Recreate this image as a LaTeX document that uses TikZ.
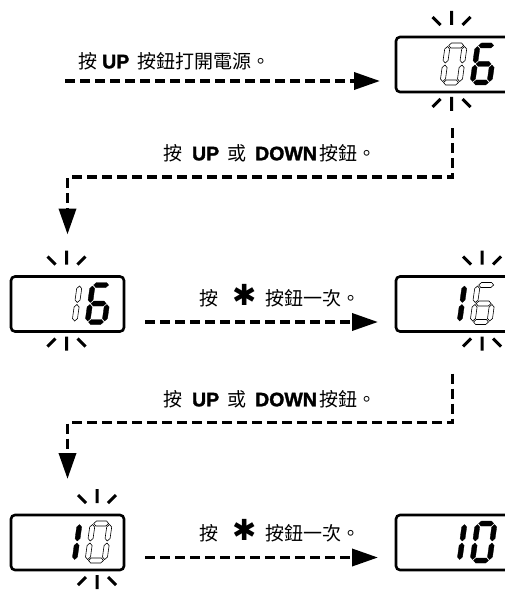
\documentclass[tikz,border=0pt]{standalone}
\usepackage{fontspec}
\setmainfont{Liberation Sans}
\newfontfamily\cjkfont{Noto Sans CJK TC}
\newfontfamily\dejavu{DejaVu Sans}
\newfontfamily\heavyfont{Liberation Sans}[BoldFeatures={FakeBold=1.6}]
\usepackage{tikz}
\usetikzlibrary{
  arrows.meta,
  calc
}
\newcommand{\btn}[1]{{\heavyfont\bfseries\fontsize{19.5pt}{22pt}\selectfont #1}}
\newcommand{\keystar}{{\dejavu\fontsize{29pt}{22pt}\selectfont ✱}}

% seven segments of one LCD digit (unslanted, origin bottom left)
\tikzset{
  seg a/.style={insert path={(1,37)--(3.5,39.5)--(13.5,39.5)--(16,37)--(13.5,34.5)--(3.5,34.5)--cycle}},
  seg b/.style={insert path={(17,19.5)--(19.5,22)--(19.5,33.5)--(17,36)--(14.5,33.5)--(14.5,22)--cycle}},
  seg c/.style={insert path={(17,1)--(19.5,3.5)--(19.5,15)--(17,17.5)--(14.5,15)--(14.5,3.5)--cycle}},
  seg d/.style={insert path={(1,0)--(3.5,2.5)--(13.5,2.5)--(16,0)--(13.5,-2.5)--(3.5,-2.5)--cycle}},
  seg e/.style={insert path={(0,1)--(2.5,3.5)--(2.5,15)--(0,17.5)--(-2.5,15)--(-2.5,3.5)--cycle}},
  seg f/.style={insert path={(0,19.5)--(2.5,22)--(2.5,33.5)--(0,36)--(-2.5,33.5)--(-2.5,22)--cycle}},
  seg g/.style={insert path={(1,18.5)--(3.5,21)--(13.5,21)--(16,18.5)--(13.5,16)--(3.5,16)--cycle}}
}

% box, x offset, lit segments, style
\newcommand{\lcddigit}[4]{%
  \begin{scope}[shift={($(#1.south west)+(#2,9.5)$)},xslant=0.14]
    \foreach \s in {#3} \path[#4,seg \s];
  \end{scope}}

% flashing marks above and below a digit
\newcommand{\blink}[2]{%
  \begin{scope}[shift={($(#1.north west)+(#2,0)$)}]
    \draw[ray] (0,12) -- (0,26) (-11,12) -- (-19,20) (11,12) -- (19,20);
  \end{scope}
  \begin{scope}[shift={($(#1.south west)+(#2,0)$)}]
    \draw[ray] (0,-5) -- (0,-19) (-11,-7) -- (-19,-15) (11,-7) -- (19,-15);
  \end{scope}}

\begin{document}
\begin{tikzpicture}[
  x=1pt, y=1pt,
  every node/.style={inner sep=0pt},
  lcd/.style={draw, line width=2.6pt, rounded corners=4pt, outer sep=0pt,
              minimum width=113pt, minimum height=55pt},
  segon/.style={fill=black, draw=black, line width=0.3pt},
  segoff/.style={fill=white, draw=black, line width=0.6pt},
  ray/.style={line width=3pt},
  flow/.style={line width=3.6pt, dash pattern=on 10pt off 5pt, line join=miter,
               -{Triangle[length=26pt,width=17pt]}},
  lbl/.style={font=\cjkfont\fontsize{19pt}{22pt}\selectfont}
]
\useasboundingbox (0,0) rectangle (505,-591);

% five LCD windows
\node[lcd] (d1) at (452.5,-64.5) {};
\node[lcd] (d2) at (67.5,-304)   {};
\node[lcd] (d3) at (452.5,-304)  {};
\node[lcd] (d4) at (67.5,-542.5) {};
\node[lcd] (d5) at (452.5,-542.5){};

% digits: tens at 46.5, units at 76.5
\lcddigit{d1}{46.5}{a,b,c,d,e,f}{segoff}
\lcddigit{d1}{76.5}{a,c,d,e,f,g}{segon}
\lcddigit{d2}{46.5}{b,c}{segoff}
\lcddigit{d2}{76.5}{a,c,d,e,f,g}{segon}
\lcddigit{d3}{46.5}{b,c}{segon}
\lcddigit{d3}{76.5}{a,c,d,e,f,g}{segoff}
\lcddigit{d4}{46.5}{b,c}{segon}
\lcddigit{d4}{76.5}{a,b,c,d,e,f}{segoff}
\lcddigit{d5}{46.5}{b,c}{segon}
\lcddigit{d5}{76.5}{a,b,c,d,e,f}{segon}

% flashing digit marks
\blink{d1}{55.5}
\blink{d2}{55.5}
\blink{d3}{86}
\blink{d4}{86}

% step texts
\node[lbl,anchor=west] (t1) at (78,-61)
  {按\hspace{5pt}\btn{UP}\hspace{8pt}按鈕打開電源。};
\node[lbl] (t2) at (270,-153)
  {按\hspace{10pt}\btn{UP}\hspace{8pt}或\hspace{9pt}\btn{DOWN}\hspace{3pt}按鈕。};
\node[lbl] (t3) at (270,-399)
  {按\hspace{10pt}\btn{UP}\hspace{8pt}或\hspace{9pt}\btn{DOWN}\hspace{3pt}按鈕。};
\node[lbl] (t4) at (280,-296)
  {按\hspace{14pt}\keystar\hspace{9pt}按鈕一次。};
\node[lbl] (t5) at (280,-531)
  {按\hspace{14pt}\keystar\hspace{9pt}按鈕一次。};

% dashed arrows
\coordinate (start) at (65,-81);
\draw[flow] (start) -- ([xshift=-16pt,yshift=-16.5pt]d1.west);
\draw[flow] ([yshift=-36pt]d1.south) -- ++(0,-49) -| ([yshift=42pt]d2.north);
\draw[flow] ([xshift=21pt,yshift=-18pt]d2.east) -- ([xshift=-18pt,yshift=-18pt]d3.west);
\draw[flow] ([yshift=-42pt]d3.south) -- ++(0,-49) -| ([yshift=36pt]d4.north);
\draw[flow] ([xshift=21pt,yshift=-15pt]d4.east) -- ([xshift=-18pt,yshift=-15pt]d5.west);
\end{tikzpicture}
\end{document}
